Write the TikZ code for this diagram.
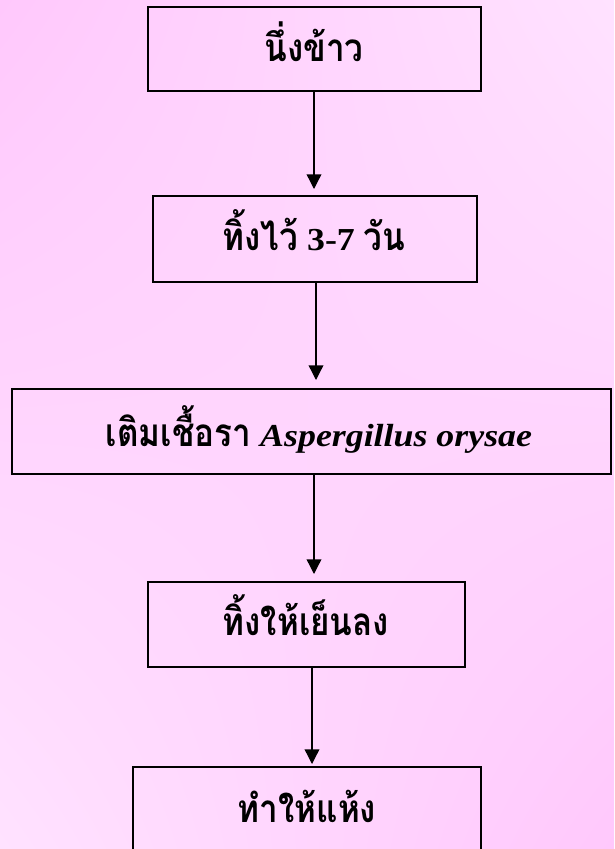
\documentclass[tikz,border=0pt]{standalone}
\usepackage{fontspec}
\setmainfont{Liberation Serif}[FakeStretch=1.12]
\newfontfamily\thai[Script=Thai,FakeStretch=0.86]{Loma}
\usetikzlibrary{arrows.meta,shadings}
\definecolor{bgA}{HTML}{FFC8FC}
\definecolor{bgB}{HTML}{FFE2FF}
\newcommand\thaitxt[1]{{\thai\fontsize{29}{34}\selectfont #1}}
\tikzset{
  px/.style={x=0.75pt,y=-0.75pt},
  box/.style={draw=black,line width=1.5pt,inner sep=0pt},
  lbl/.style={anchor=base,inner sep=0pt,font=\bfseries\fontsize{24}{28}\selectfont},
  arr/.style={line width=1pt,-{Triangle[length=11pt,width=11pt]}}
}
\begin{document}
\begin{tikzpicture}[px]
\useasboundingbox (0,0) rectangle (614,849);
\shade[upper left=bgA,upper right=bgB,lower left=bgB,lower right=bgA] (0,0) rectangle (614,849);
\node[box,minimum width=333*0.75pt,minimum height=84*0.75pt] (b1) at (314.5,49) {};
\node[box,minimum width=324*0.75pt,minimum height=86*0.75pt] (b2) at (315,239) {};
\node[box,minimum width=599*0.75pt,minimum height=85*0.75pt] (b3) at (311.5,431.5) {};
\node[box,minimum width=317*0.75pt,minimum height=85*0.75pt] (b4) at (306.5,624.5) {};
\node[box,minimum width=348*0.75pt,minimum height=85*0.75pt] (b5) at (307,809.5) {};
\node[lbl] (t1) at (314,61) {\thaitxt{นึ่งข้าว}};
\node[lbl] (t2) at (314,250) {\thaitxt{ทิ้งไว้} 3-7 \thaitxt{วัน}};
\node[lbl] (t3) at (319,446) {\thaitxt{เติมเชื้อรา} \itshape Aspergillus orysae};
\node[lbl] (t4) at (306,635) {\thaitxt{ทิ้งให้เย็นลง}};
\node[lbl] (t5) at (307,822) {\thaitxt{ทำให้แห้ง}};
\draw[arr,shorten >=6*0.75pt] ([xshift=-0.5*0.75pt]b1.south) -- ([xshift=-0.5*0.75pt]b1.south |- b2.north);
\draw[arr,shorten >=8*0.75pt] ([xshift=1*0.75pt]b2.south) -- ([xshift=1*0.75pt]b2.south |- b3.north);
\draw[arr,shorten >=7*0.75pt] ([xshift=2.5*0.75pt]b3.south) -- ([xshift=2.5*0.75pt]b3.south |- b4.north);
\draw[arr,shorten >=2*0.75pt] ([xshift=5.5*0.75pt]b4.south) -- ([xshift=5.5*0.75pt]b4.south |- b5.north);
\end{tikzpicture}
\end{document}
